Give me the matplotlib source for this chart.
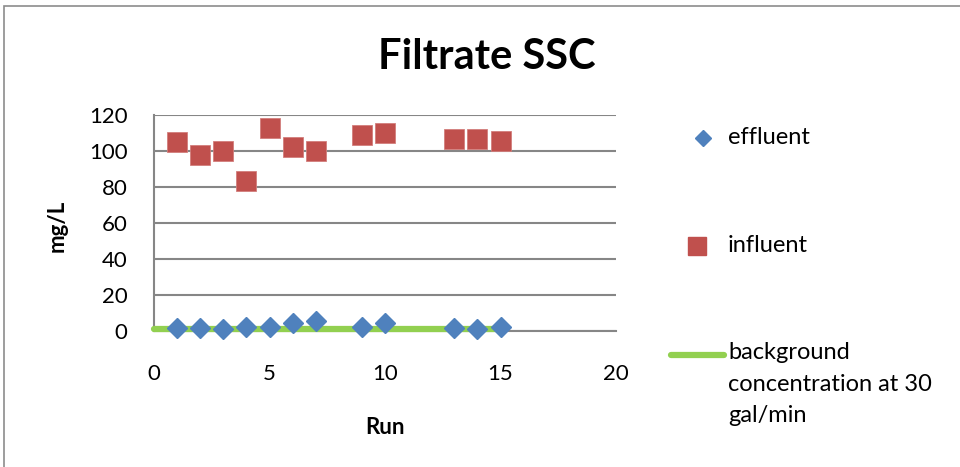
import matplotlib
matplotlib.use("Agg")
import matplotlib.pyplot as plt
from matplotlib.lines import Line2D
from matplotlib.patches import Rectangle

# Data
runs = [1, 2, 3, 4, 5, 6, 7, 9, 10, 13, 14, 15]
effluent = [1.5, 1.5, 1.3, 2.3, 2.3, 4.3, 5.4, 2.2, 4.2, 1.5, 0.9, 2.3]
influent = [105.1, 97.7, 99.9, 83.1, 112.7, 102.5, 99.9, 109.0, 110.1, 106.8, 106.8, 105.6]
background_runs = [0, 15]
background = [1, 1]

series_names = ["effluent", "influent", "background\nconcentration at 30\ngal/min"]
x_ticks = [0, 5, 10, 15, 20]
y_ticks = [0, 20, 40, 60, 80, 100, 120]

BLUE = "#4F81BD"
RED = "#C0504D"
GREEN = "#92D050"
GRID = "#868686"

plt.rcParams["font.family"] = ["Lato", "DejaVu Sans"]

fig = plt.figure(figsize=(9.6, 4.67), dpi=100)
fig.patch.set_facecolor("white")

# chart frame
fig.add_artist(Rectangle((4 / 960, -0.05), 1.2, 1.05 - 6 / 467, transform=fig.transFigure,
                         fill=False, edgecolor="#8C8C8C", linewidth=1.2))

ax = fig.add_axes([154 / 960, 1 - 331 / 467, (616 - 154) / 960, (331 - 115) / 467])
ax.set_xlim(0, 20)
ax.set_ylim(0, 120)
ax.set_xticks(x_ticks)
ax.set_yticks(y_ticks)
ax.yaxis.grid(True, color=GRID, linewidth=1.5)
ax.set_axisbelow(True)
for s in ["top", "right"]:
    ax.spines[s].set_visible(False)
for s in ["left", "bottom"]:
    ax.spines[s].set_color(GRID)
    ax.spines[s].set_linewidth(1.5)
ax.tick_params(length=0, labelsize=16)
ax.tick_params(axis="y", pad=19)
ax.tick_params(axis="x", pad=24)

ax.plot(background_runs, background, color=GREEN, linewidth=4.5, solid_capstyle="round",
        zorder=3, clip_on=False)
ax.plot(runs, effluent, linestyle="none", marker="D", markersize=10.5, color=BLUE,
        markeredgecolor=BLUE, zorder=4, clip_on=False)
ax.plot(runs, influent, linestyle="none", marker="s", markersize=14.5, color=RED,
        markeredgecolor="#D27E7C", markeredgewidth=0.6, zorder=4, clip_on=False)

ax.set_xlabel("Run", fontsize=16, fontweight="bold")
ax.xaxis.set_label_coords(0.5, -(417 - 331) / 216)
ax.set_ylabel("mg/L", fontsize=16, fontweight="bold")
ax.yaxis.set_label_coords(-(154 - 68) / 462, (331 - 226) / 216)
fig.text(487 / 960, 1 - 57 / 467, "Filtrate SSC", ha="center", va="center",
         fontsize=30, fontweight="bold")

# legend
def fx(px):
    return px / 960

def fy(py):
    return 1 - py / 467

fig.add_artist(Line2D([fx(703)], [fy(138)], marker="D", markersize=8.5, color=BLUE,
                      linestyle="none", transform=fig.transFigure))
fig.text(fx(728), fy(138), series_names[0], fontsize=17, va="center", ha="left")
fig.add_artist(Line2D([fx(697)], [fy(246)], marker="s", markersize=12.5, color=RED,
                      linestyle="none", transform=fig.transFigure))
fig.text(fx(728), fy(246), series_names[1], fontsize=17, va="center", ha="left")
fig.add_artist(Line2D([fx(671), fx(724)], [fy(355), fy(355)], color=GREEN, linewidth=4.5,
                      solid_capstyle="round", transform=fig.transFigure))
fig.text(fx(728), fy(342), series_names[2], fontsize=17, va="top", ha="left",
         linespacing=1.62)

fig.savefig("out.png", dpi=100, facecolor="white")
